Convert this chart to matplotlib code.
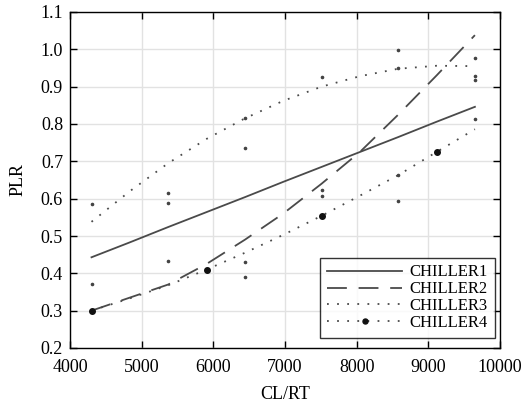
import matplotlib
matplotlib.use("Agg")
import matplotlib.pyplot as plt

plt.rcParams['font.family'] = ['Liberation Serif', 'DejaVu Serif']

# Cooling load grid (CL/RT)
cl = [4300, 4835, 5370, 5905, 6440, 6975, 7510, 8045, 8580, 9115, 9650]

chiller1 = [0.443, 0.483, 0.524, 0.564, 0.604, 0.645, 0.685, 0.725, 0.765, 0.806, 0.846]
chiller2 = [0.300, 0.335, 0.370, 0.425, 0.490, 0.560, 0.640, 0.725, 0.825, 0.930, 1.038]
chiller3 = [0.538, 0.620, 0.695, 0.760, 0.815, 0.862, 0.900, 0.928, 0.948, 0.956, 0.955]
chiller4 = [0.300, 0.333, 0.368, 0.410, 0.455, 0.503, 0.554, 0.608, 0.663, 0.725, 0.786]

# measured points
pts_x = [4300, 4300, 5370, 5370, 5370, 6440, 6440, 6440, 6440,
         7510, 7510, 7510, 8580, 8580, 8580, 8580, 9650, 9650, 9650, 9650]
pts_y = [0.585, 0.372, 0.616, 0.589, 0.433, 0.815, 0.735, 0.431, 0.391,
         0.927, 0.623, 0.607, 0.998, 0.949, 0.663, 0.594, 0.976, 0.929, 0.918, 0.813]

labels = ['CHILLER1', 'CHILLER2', 'CHILLER3', 'CHILLER4']
xticks = [4000, 5000, 6000, 7000, 8000, 9000, 10000]
yticks = [0.2, 0.3, 0.4, 0.5, 0.6, 0.7, 0.8, 0.9, 1.0, 1.1]

fig = plt.figure(figsize=(5.22, 4.04), dpi=100)
ax = fig.add_axes([70/522, 1 - 348/404, 430/522, 336/404])

lc = '#4a4a4a'
ax.plot(cl, chiller1, color=lc, lw=1.3, ls='-', label=labels[0])
ax.plot(cl, chiller2, color=lc, lw=1.3, ls=(0, (11, 6.5)), label=labels[1])
ax.plot(cl, chiller3, color=lc, lw=1.3, ls=(0, (1, 4.6)), label=labels[2])
ax.plot(cl, chiller4, color=lc, lw=1.3, ls=(0, (1, 4.6)), marker='o', ms=4,
        markevery=3, mfc='#111111', mec='#111111', label=labels[3])
ax.plot(pts_x, pts_y, ls='none', marker='o', ms=1.6, color='#444444')

ax.set_xlim(4000, 10000)
ax.set_ylim(0.2, 1.1)
ax.set_xticks(xticks)
ax.set_yticks(yticks)
ax.set_xticklabels([str(t) for t in xticks])
ax.set_yticklabels(['%.1f' % t for t in yticks])
ax.grid(True, color='#e2e2e2', lw=1.0)
ax.set_axisbelow(True)
ax.tick_params(direction='in', length=5, width=1, top=True, right=True,
               labelsize=13, colors='black')
ax.tick_params(axis='x', pad=8)
ax.tick_params(axis='y', pad=5)
for s in ax.spines.values():
    s.set_linewidth(1.0)
ax.set_xlabel('CL/RT', fontsize=13, labelpad=7)
ax.set_ylabel('PLR', fontsize=13, labelpad=10)

leg = ax.legend(loc='lower right', bbox_to_anchor=(425/430, 10/336),
                fontsize=12, frameon=True, fancybox=False,
                edgecolor='black', handlelength=4.5, handletextpad=0.45,
                borderpad=0.42, labelspacing=0.05, borderaxespad=0.0,
                markerscale=0.9)
leg.get_frame().set_linewidth(1.0)

fig.savefig('out.png', dpi=100)
